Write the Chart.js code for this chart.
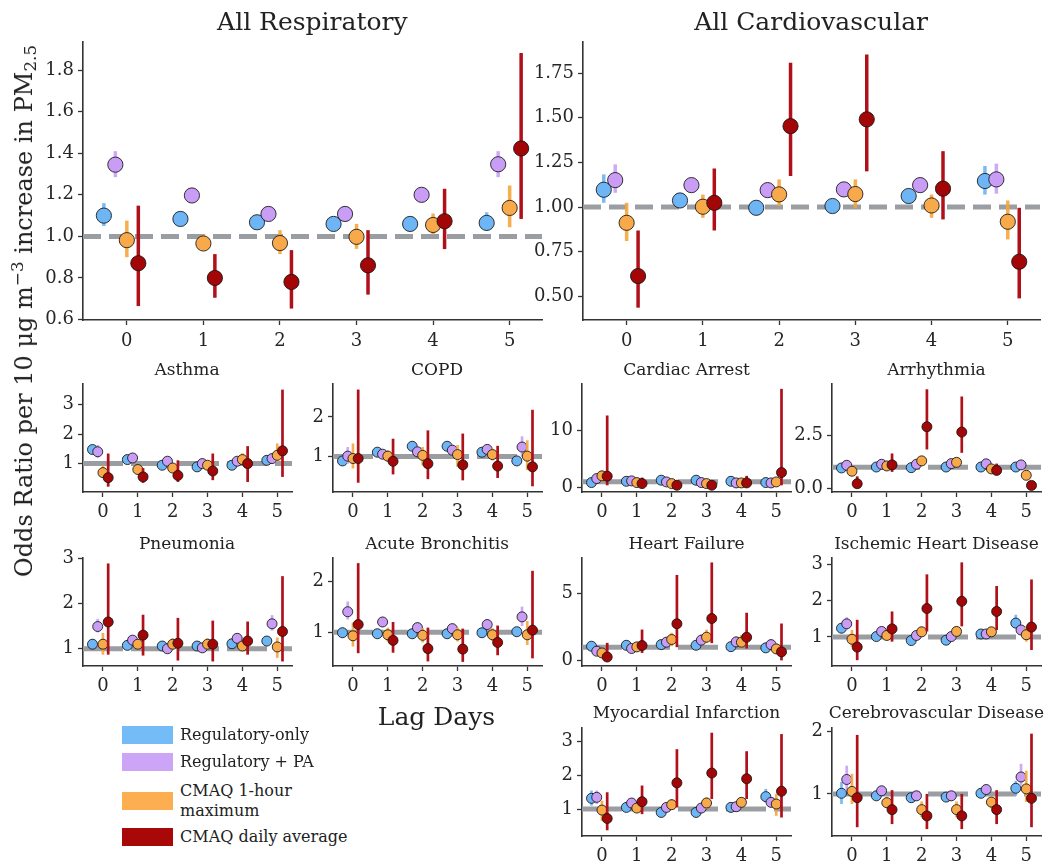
<!DOCTYPE html>
<html><head><meta charset="utf-8">
<script src="https://cdn.jsdelivr.net/npm/chart.js@4.4.0/dist/chart.umd.min.js"></script>
<style>
body{margin:0;background:#fff;width:1047px;height:862px;position:relative;overflow:hidden;font-family:'DejaVu Serif',serif;color:#222}
canvas{position:absolute}
.t{position:absolute;white-space:nowrap;transform:translate(-50%,-50%);line-height:1}
.leg{position:absolute;left:122px;width:51px;height:18px}
.lt{position:absolute;left:180px;font-size:16px;line-height:20px;transform:translateY(-50%);white-space:nowrap}
</style></head><body>
<script>
// ---------- data ----------
const LAGS = [0, 1, 2, 3, 4, 5];
const SERIES_NAMES = ['Regulatory-only', 'Regulatory + PA', 'CMAQ 1-hour maximum', 'CMAQ daily average'];
const REF_VALUE = 1;
// each entry: [odds ratio, lower CI, upper CI] per lag day
const respReg = [[1.10,1.05,1.16],[1.084,1.06,1.11],[1.068,1.045,1.09],[1.06,1.04,1.08],[1.06,1.04,1.08],[1.065,1.027,1.116]];
const respPa  = [[1.345,1.285,1.41],[1.197,1.18,1.215],[1.108,1.09,1.125],[1.108,1.09,1.125],[1.2,1.18,1.22],[1.347,1.285,1.41]];
const respHr1 = [[0.982,0.90,1.076],[0.966,0.94,1.01],[0.968,0.915,1.03],[0.998,0.94,1.06],[1.055,1.01,1.11],[1.137,1.044,1.245]];
const respAvg = [[0.871,0.665,1.148],[0.80,0.705,0.915],[0.781,0.653,0.934],[0.861,0.72,1.03],[1.073,0.939,1.229],[1.423,1.084,1.882]];

const cardReg = [[1.097,1.024,1.183],[1.037,1.02,1.055],[0.996,0.98,1.01],[1.006,0.99,1.02],[1.062,1.04,1.085],[1.146,1.07,1.23]];
const cardPa  = [[1.151,1.08,1.239],[1.123,1.105,1.14],[1.095,1.08,1.11],[1.099,1.08,1.115],[1.123,1.105,1.14],[1.155,1.075,1.243]];
const cardHr1 = [[0.912,0.81,1.024],[1.002,0.94,1.07],[1.071,1.006,1.155],[1.073,0.996,1.155],[1.009,0.94,1.07],[0.918,0.819,1.037]];
const cardAvg = [[0.614,0.437,0.869],[1.024,0.869,1.216],[1.453,1.174,1.808],[1.491,1.2,1.854],[1.103,0.931,1.313],[0.694,0.489,0.996]];

const asthReg = [[1.475,1.33,1.62],[1.136,1.05,1.22],[0.944,0.87,1.02],[0.89,0.82,0.96],[0.944,0.88,1.01],[1.11,1.03,1.19]];
const asthPa  = [[1.40,1.2,1.63],[1.19,1.12,1.26],[1.08,1.0,1.16],[1.0,0.93,1.08],[1.08,1.0,1.16],[1.17,1.08,1.27]];
const asthHr1 = [[0.695,0.55,0.94],[0.80,0.68,0.95],[0.85,0.72,1.0],[0.944,0.8,1.1],[1.136,0.95,1.35],[1.28,1.06,1.68]];
const asthAvg = [[0.525,0.22,1.34],[0.55,0.35,0.85],[0.60,0.38,1.11],[0.75,0.44,1.34],[1.0,0.38,1.59],[1.43,0.55,3.5]];

const copdReg = [[0.89,0.78,1.03],[1.11,1.03,1.19],[1.26,1.15,1.37],[1.26,1.15,1.37],[1.11,1.02,1.2],[0.89,0.78,1.0]];
const copdPa  = [[1.01,0.82,1.24],[1.06,0.95,1.17],[1.12,0.99,1.25],[1.16,1.02,1.3],[1.18,1.05,1.3],[1.24,0.99,1.51]];
const copdHr1 = [[0.95,0.70,1.33],[1.01,0.87,1.16],[1.03,0.78,1.24],[1.05,0.74,1.29],[1.05,0.9,1.2],[1.01,0.66,1.41]];
const copdAvg = [[0.95,0.34,2.69],[0.88,0.55,1.45],[0.82,0.43,1.66],[0.79,0.40,1.58],[0.76,0.46,1.27],[0.74,0.25,2.18]];

const pneuReg = [[1.10,1.0,1.21],[1.075,1.0,1.15],[1.06,0.99,1.13],[1.06,0.99,1.13],[1.11,1.04,1.19],[1.17,1.08,1.27]];
const pneuPa  = [[1.49,1.36,1.66],[1.19,1.1,1.28],[1.0,0.93,1.08],[1.02,0.95,1.1],[1.23,1.14,1.32],[1.55,1.40,1.74]];
const pneuHr1 = [[1.10,0.87,1.35],[1.10,0.98,1.22],[1.10,0.98,1.23],[1.10,0.98,1.23],[1.06,0.95,1.18],[1.04,0.80,1.25]];
const pneuAvg = [[1.59,0.87,2.88],[1.30,0.85,1.75],[1.12,0.74,1.68],[1.10,0.72,1.62],[1.17,0.87,1.60],[1.38,0.72,2.60]];

const bronReg = [[0.99,0.9,1.09],[0.97,0.9,1.05],[0.97,0.9,1.04],[0.97,0.9,1.04],[0.99,0.92,1.06],[1.01,0.93,1.1]];
const bronPa  = [[1.40,1.25,1.6],[1.20,1.1,1.3],[1.09,1.0,1.19],[1.07,0.98,1.17],[1.15,1.06,1.25],[1.30,1.12,1.5]];
const bronHr1 = [[0.93,0.72,1.19],[0.95,0.82,1.09],[0.94,0.8,1.08],[0.95,0.82,1.09],[0.95,0.83,1.08],[0.95,0.75,1.22]];
const bronAvg = [[1.15,0.59,2.35],[0.84,0.60,1.2],[0.68,0.43,1.09],[0.67,0.42,1.07],[0.80,0.55,1.13],[1.04,0.49,2.2]];

const arreReg = [[0.88,0.6,1.3],[1.1,0.8,1.5],[1.29,0.9,1.8],[1.29,0.9,1.8],[1.1,0.8,1.5],[0.88,0.6,1.3]];
const arrePa  = [[1.58,1.0,2.4],[1.17,0.8,1.7],[0.99,0.6,1.5],[0.88,0.55,1.4],[0.82,0.5,1.3],[0.82,0.5,1.3]];
const arreHr1 = [[2.05,1.0,3.0],[0.88,0.5,1.5],[0.7,0.35,1.3],[0.7,0.35,1.3],[0.82,0.45,1.5],[0.99,0.55,1.8]];
const arreAvg = [[1.99,0.4,12.6],[0.7,0.12,1.75],[0.41,0.05,1.2],[0.41,0.05,1.2],[0.82,0.12,2.05],[2.63,0.4,17.25]];

const arrhReg = [[0.965,0.88,1.05],[1.01,0.93,1.09],[0.98,0.9,1.06],[1.01,0.93,1.09],[1.01,0.93,1.09],[1.01,0.93,1.09]];
const arrhPa  = [[1.09,1.0,1.18],[1.14,1.05,1.23],[1.14,1.05,1.23],[1.17,1.08,1.26],[1.16,1.07,1.25],[1.11,1.02,1.2]];
const arrhHr1 = [[0.81,0.7,0.93],[1.06,0.9,1.25],[1.30,1.12,1.5],[1.23,1.05,1.43],[0.92,0.8,1.06],[0.62,0.52,0.73]];
const arrhAvg = [[0.22,0.06,0.57],[1.11,0.78,1.65],[2.91,1.84,4.68],[2.66,1.68,4.34],[0.85,0.66,1.17],[0.14,0.05,0.3]];

const hfReg = [[1.07,0.8,1.4],[1.14,0.9,1.4],[1.19,0.95,1.45],[1.14,0.9,1.4],[1.04,0.8,1.3],[0.95,0.7,1.2]];
const hfPa  = [[0.70,0.45,1.0],[0.90,0.65,1.2],[1.37,1.05,1.75],[1.52,1.15,1.95],[1.39,1.05,1.8],[1.19,0.9,1.55]];
const hfHr1 = [[0.57,0.3,0.9],[1.02,0.7,1.4],[1.57,1.07,2.07],[1.74,1.3,2.3],[1.37,0.9,1.9],[0.87,0.5,1.3]];
const hfAvg = [[0.27,0.02,1.32],[1.12,0.57,2.31],[2.74,1.0,6.37],[3.13,1.3,7.3],[1.74,0.9,3.56],[0.65,0.02,2.76]];

const ihdReg = [[1.24,1.1,1.38],[1.01,0.94,1.08],[0.90,0.84,0.97],[0.91,0.84,0.98],[1.08,1.0,1.16],[1.38,1.24,1.61]];
const ihdPa  = [[1.36,1.19,1.54],[1.15,1.07,1.24],[1.04,0.96,1.12],[1.01,0.93,1.09],[1.08,1.0,1.16],[1.19,1.08,1.3]];
const ihdHr1 = [[0.935,0.73,1.19],[1.04,0.93,1.15],[1.14,1.0,1.28],[1.15,1.01,1.29],[1.14,1.02,1.27],[1.06,0.87,1.29]];
const ihdAvg = [[0.72,0.36,1.47],[1.22,0.87,1.70],[1.78,1.15,2.72],[1.98,1.29,3.05],[1.70,1.19,2.40],[1.27,0.64,2.58]];

const miReg = [[1.32,1.1,1.55],[1.05,0.96,1.14],[0.90,0.82,0.98],[0.90,0.82,0.98],[1.05,0.96,1.14],[1.37,1.2,1.6]];
const miPa  = [[1.35,1.15,1.55],[1.18,1.08,1.28],[1.05,0.96,1.14],[1.03,0.94,1.12],[1.07,0.98,1.16],[1.20,1.08,1.33]];
const miHr1 = [[0.97,0.65,1.25],[1.03,0.9,1.17],[1.13,0.98,1.3],[1.18,1.0,1.35],[1.20,1.05,1.35],[1.15,0.8,1.45]];
const miAvg = [[0.72,0.37,1.50],[1.22,0.85,1.70],[1.78,1.05,2.78],[2.07,1.30,3.27],[1.90,1.30,2.72],[1.53,0.75,3.23]];

const cvdReg = [[1.01,0.84,1.19],[0.97,0.9,1.04],[0.94,0.87,1.01],[0.95,0.88,1.02],[1.01,0.94,1.08],[1.09,0.97,1.21]];
const cvdPa  = [[1.23,1.05,1.45],[1.05,0.97,1.13],[0.97,0.89,1.05],[0.97,0.89,1.05],[1.07,0.99,1.15],[1.27,1.13,1.48]];
const cvdHr1 = [[1.04,0.84,1.32],[0.86,0.77,0.95],[0.75,0.63,0.88],[0.75,0.63,0.88],[0.87,0.77,0.95],[1.08,0.87,1.37]];
const cvdAvg = [[0.94,0.47,1.94],[0.75,0.52,1.06],[0.65,0.44,1.0],[0.65,0.44,1.0],[0.75,0.52,1.06],[0.93,0.47,1.96]];

// tick labels
const RESP_TICKS = [0.6, 0.8, 1.0, 1.2, 1.4, 1.6, 1.8];
const CARD_TICKS = [0.5, 0.75, 1.0, 1.25, 1.5, 1.75];
const T123 = [1, 2, 3];
const T12 = [1, 2];
const T010 = [0, 10];
const T025 = [0, 2.5];
const T05 = [0, 5];

// ---------- styles / layout ----------
const OFFSETS = [-0.3, -0.15, 0, 0.15];
const X_MIN = -0.5725, X_MAX = 5.4225;
const COLORS = ['#6db5f4', '#c99df5', '#f8a94a', '#a30606'];
const ERR_COLORS = ['rgba(110,180,240,0.9)', 'rgba(200,160,245,0.9)', 'rgba(245,165,60,0.9)', '#b0101a'];
const REF_COLOR = '#9a9da1';
const FONT = 'DejaVu Serif';

const SW = 208.5, SH = 107.7;
const COLS = [82.8, 332.8, 582.3, 832.2];
const ROWS = [384, 557.5, 728];

const PANELS = [
  {title:'All Respiratory', s:[respReg,respPa,respHr1,respAvg], L:83, T:42, W:458.7, H:277.5, y0:0.598, y1:1.935, ticks:RESP_TICKS, dec:1, big:true, ty:21},
  {title:'All Cardiovascular', s:[cardReg,cardPa,cardHr1,cardAvg], L:582.6, T:41.7, W:457, H:277.6, y0:0.368, y1:1.924, ticks:CARD_TICKS, dec:2, big:true, ty:21},
  {title:'Asthma', s:[asthReg,asthPa,asthHr1,asthAvg], L:COLS[0], T:ROWS[0], y0:0.04, y1:3.69, ticks:T123, dec:0, ty:369},
  {title:'COPD', s:[copdReg,copdPa,copdHr1,copdAvg], L:COLS[1], T:ROWS[0], y0:0.106, y1:2.83, ticks:T12, dec:0, ty:369},
  {title:'Cardiac Arrest', s:[arreReg,arrePa,arreHr1,arreAvg], L:COLS[2], T:ROWS[0], y0:-0.77, y1:18.1, ticks:T010, dec:0, ty:369},
  {title:'Arrhythmia', s:[arrhReg,arrhPa,arrhHr1,arrhAvg], L:COLS[3], T:ROWS[0], y0:-0.17, y1:4.93, ticks:T025, dec:1, ty:369},
  {title:'Pneumonia', s:[pneuReg,pneuPa,pneuHr1,pneuAvg], L:COLS[0], T:ROWS[1], y0:0.62, y1:3.0, ticks:T123, dec:0, ty:543},
  {title:'Acute Bronchitis', s:[bronReg,bronPa,bronHr1,bronAvg], L:COLS[1], T:ROWS[1], y0:0.34, y1:2.45, ticks:T12, dec:0, ty:543},
  {title:'Heart Failure', s:[hfReg,hfPa,hfHr1,hfAvg], L:COLS[2], T:ROWS[1], y0:-0.4, y1:7.63, ticks:T05, dec:0, ty:543},
  {title:'Ischemic Heart Disease', s:[ihdReg,ihdPa,ihdHr1,ihdAvg], L:COLS[3], T:ROWS[1], y0:0.2, y1:3.17, ticks:T123, dec:0, ty:543},
  {title:'Myocardial Infarction', s:[miReg,miPa,miHr1,miAvg], L:COLS[2], T:ROWS[2], y0:0.2, y1:3.41, ticks:T123, dec:0, ty:712},
  {title:'Cerebrovascular Disease', s:[cvdReg,cvdPa,cvdHr1,cvdAvg], L:COLS[3], T:ROWS[2], y0:0.33, y1:2.05, ticks:T12, dec:0, ty:712}
];

const errPlugin = {
  id: 'errbars',
  beforeDatasetsDraw(chart, args, o) {
    const {ctx, chartArea: a, scales: {y}} = chart;
    const py = y.getPixelForValue(REF_VALUE);
    ctx.save();
    ctx.beginPath(); ctx.rect(a.left, a.top, a.right - a.left, a.bottom - a.top); ctx.clip();
    ctx.strokeStyle = REF_COLOR; ctx.lineWidth = o.refLw; ctx.setLineDash(o.dash);
    ctx.beginPath(); ctx.moveTo(a.left, py); ctx.lineTo(a.right, py); ctx.stroke();
    ctx.restore();
  },
  beforeDatasetDraw(chart, args, o) {
    const ds = chart.data.datasets[args.index];
    const {ctx, scales: {x, y}} = chart;
    ctx.save();
    ctx.strokeStyle = ds.errColor; ctx.lineWidth = o.errLw; ctx.lineCap = 'butt';
    ds.data.forEach(d => {
      const px = x.getPixelForValue(d.x);
      ctx.beginPath(); ctx.moveTo(px, y.getPixelForValue(d.lo)); ctx.lineTo(px, y.getPixelForValue(d.hi)); ctx.stroke();
    });
    ctx.restore();
  }
};

function addText(html, x, y, size, extra) {
  const d = document.createElement('div');
  d.className = 't'; d.innerHTML = html;
  d.style.left = x + 'px'; d.style.top = y + 'px'; d.style.fontSize = size + 'px';
  if (extra) d.style.transform = extra;
  document.body.appendChild(d);
}

function makePanel(p) {
  const big = !!p.big;
  const W = p.W || SW, H = p.H || SH;
  const padL = 70, padR = 24, padT = 24, padB = 44;
  const c = document.createElement('canvas');
  c.width = Math.round(W + padL + padR); c.height = Math.round(H + padT + padB);
  c.style.left = (p.L - padL) + 'px'; c.style.top = (p.T - padT) + 'px';
  document.body.appendChild(c);
  const datasets = p.s.map((ser, k) => ({
    label: SERIES_NAMES[k],
    data: ser.map((v, i) => ({x: LAGS[i] + OFFSETS[k], y: v[0], lo: v[1], hi: v[2]})),
    backgroundColor: COLORS[k],
    borderColor: 'rgba(20,20,20,0.85)',
    borderWidth: 1,
    pointRadius: big ? 7.6 : 5,
    order: 4 - k,
    errColor: ERR_COLORS[k]
  }));
  const tickFont = {family: FONT, size: 18};
  const chart = new Chart(c, {
    type: 'scatter',
    data: {datasets},
    plugins: [errPlugin],
    options: {
      responsive: false, animation: false, devicePixelRatio: 1, events: [],
      layout: {padding: {top: padT, right: padR, left: 0, bottom: 0}},
      plugins: {legend: {display: false}, tooltip: {enabled: false},
        errbars: {refLw: 5, dash: big ? [18, 8] : [40, 8], errLw: big ? 3.5 : 2.7}},
      scales: {
        x: {type: 'linear', min: X_MIN, max: X_MAX,
          afterBuildTicks: s => { s.ticks = LAGS.map(v => ({value: v})); },
          afterFit: s => { s.height = padB; },
          grid: {display: true, drawOnChartArea: false, drawTicks: true, tickLength: 5, tickWidth: 1.3, tickColor: '#333'},
          border: {display: true, color: '#333', width: 1.6},
          ticks: {font: tickFont, color: '#262626', padding: big ? 6 : 5, maxRotation: 0, autoSkip: false, callback: v => String(v)}},
        y: {type: 'linear', min: p.y0, max: p.y1,
          afterBuildTicks: s => { s.ticks = p.ticks.map(v => ({value: v})); },
          afterFit: s => { s.width = padL; },
          grid: {display: true, drawOnChartArea: false, drawTicks: true, tickLength: 5, tickWidth: 1.3, tickColor: '#333'},
          border: {display: true, color: '#333', width: 1.6},
          ticks: {font: tickFont, color: '#262626', padding: 4, autoSkip: false, callback: v => Number(v).toFixed(p.dec)}}
      }
    }
  });
  const ca = chart.chartArea;
  c.style.left = (p.L - ca.left) + 'px';
  c.style.top = (p.T - ca.top) + 'px';
  addText(p.title, p.L + W / 2, p.ty, big ? 25 : 17);
}

PANELS.forEach(makePanel);

addText('Odds Ratio per 10 μg m<sup style="font-size:0.7em;vertical-align:0.55em;line-height:0">−3</sup> increase in PM<sub style="font-size:0.7em;vertical-align:-0.25em;line-height:0">2.5</sub>', 24, 311, 24, 'translate(-50%,-50%) rotate(-90deg)');
addText('Lag Days', 436.5, 716, 25);

// legend
const LEG_COLORS = ['#74bcf7', '#cda5f7', '#fcae50', '#a80808'];
const LEG_ROWS = [735, 762, 801, 837];
const LEG_LABELS = ['Regulatory-only', 'Regulatory + PA', 'CMAQ 1-hour<br>maximum', 'CMAQ daily average'];
LEG_LABELS.forEach((lab, i) => {
  const b = document.createElement('div'); b.className = 'leg';
  b.style.top = (LEG_ROWS[i] - 9) + 'px'; b.style.background = LEG_COLORS[i];
  document.body.appendChild(b);
  const t = document.createElement('div'); t.className = 'lt';
  t.style.top = LEG_ROWS[i] + 'px'; t.innerHTML = lab;
  document.body.appendChild(t);
});
</script>
</body></html>
